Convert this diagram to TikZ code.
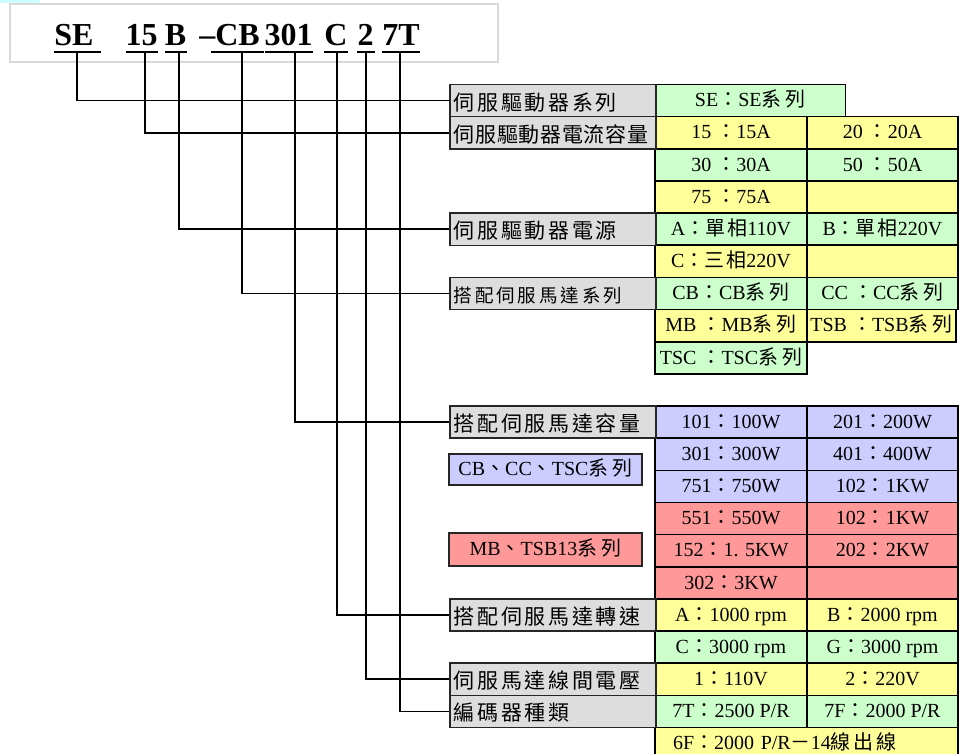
\documentclass[tikz,border=0pt]{standalone}
\usepackage{fontspec}
\setmainfont{Liberation Serif}
\newfontfamily\cjk{Noto Sans CJK TC}
\definecolor{labgray}{HTML}{DDDDDD}
\definecolor{cgreen}{HTML}{CCFFCC}
\definecolor{cyellow}{HTML}{FFFF99}
\definecolor{cblue}{HTML}{CCCCFF}
\definecolor{cred}{HTML}{FF9999}
\definecolor{framegray}{HTML}{D9D9D9}
\definecolor{cyanp}{HTML}{CCFFFF}
\makeatletter
\newcommand\lsp[2]{\def\lsp@s{\hspace{#1}}\lsp@a#2\@nil}
\def\lsp@a#1{\ifx#1\@nil\else#1\expandafter\lsp@b\fi}
\def\lsp@b#1{\ifx#1\@nil\else\lsp@s#1\expandafter\lsp@b\fi}
\makeatother
\newcommand\z[1]{{\cjk #1}}
\newcommand\fc{\z{：}}
\newcommand\xl{\z{系\hspace{4pt}列}}
\tikzset{
 conn/.style={line width=1.6pt, black},
 ul/.style={line width=1.5pt, black},
 code/.style={font=\fontsize{32}{36}\selectfont\bfseries, anchor=base, inner sep=0pt},
 lab/.style={draw=black!85, line width=1.5pt, fill=labgray, anchor=west, minimum height=32.15pt,
   text width=198pt, inner xsep=4pt, inner ysep=0pt, align=left,
   font=\fontsize{21}{24}\selectfont\cjk, text height=19pt, text depth=0pt},
 cell/.style={draw=black, line width=1.6pt, minimum height=32.15pt, inner sep=0pt,
   font=\fontsize{20}{24}\selectfont, text height=15pt, text depth=2.5pt},
 ca/.style={cell, minimum width=152pt},
 cb/.style={cell, minimum width=151pt},
 side/.style={draw=black!85, line width=1.6pt, minimum width=193pt, inner sep=0pt,
   font=\fontsize{20}{24}\selectfont, text height=15pt, text depth=2.5pt},
}
\begin{document}
\begin{tikzpicture}[x=1pt,y=-1pt]
\useasboundingbox (0,0) rectangle (960,754);
\clip (0,0) rectangle (960,754);
\fill[white] (0,0) rectangle (960,754);
\fill[cyanp] (0,0) rectangle (40,3.5);
\draw[framegray, line width=1.3pt] (10,4) rectangle (498,62);
% code
\node[code] (cSE) at (74,45.5) {SE};
\node[code] (c15) at (141.5,45.5) {15};
\node[code] (cB) at (175.5,45.5) {B};
\node[code] (cCB) at (229.5,45.5) {–CB};
\node[code] (c301) at (288.5,45.5) {301};
\node[code] (cC) at (336,45.5) {C};
\node[code] (c2) at (365.5,45.5) {2};
\node[code] (c7T) at (401,45.5) {7T};
\draw[ul] (54,52) -- (101,52);
\draw[ul] (126,52) -- (158,52);
\draw[ul] (165,52) -- (187,52);
\draw[ul] (211,52) -- (264,52);
\draw[ul] (265,52) -- (313,52);
\draw[ul] (324,52) -- (348,52);
\draw[ul] (357,52) -- (375,52);
\draw[ul] (382,52) -- (420,52);
\coordinate (uSE) at (77,52);
\coordinate (u15) at (145,52);
\coordinate (uB) at (179,52);
\coordinate (uCB) at (242,52);
\coordinate (u301) at (295,52);
\coordinate (uC) at (337,52);
\coordinate (u2) at (366,52);
\coordinate (u7T) at (400,52);
% cells
\node[cell, fill=cgreen, minimum width=190.5pt] (dSE) at (750.25,100.575) {SE\fc SE\xl};
\node[ca, fill=cyellow] (d15) at (731,132.725) {15 \fc15A};
\node[cb, fill=cyellow] (d20) at (882.5,132.725) {20 \fc20A};
\node[ca, fill=cgreen] (d30) at (731,164.875) {30 \fc30A};
\node[cb, fill=cgreen] (d50) at (882.5,164.875) {50 \fc50A};
\node[ca, fill=cyellow] (d75) at (731,197.025) {75 \fc75A};
\node[cb, fill=cyellow] (d75e) at (882.5,197.025) {};
\node[ca, fill=cgreen] (dA) at (731,229.175) {A\fc\z{單\hspace{2pt}相}110V};
\node[cb, fill=cgreen] (dB) at (882.5,229.175) {B\fc\z{單\hspace{2pt}相}220V};
\node[ca, fill=cyellow] (dC) at (731,261.325) {C\fc\z{三\hspace{2pt}相}220V};
\node[cb, fill=cyellow] (dCe) at (882.5,261.325) {};
\node[ca, fill=cgreen] (dCB) at (731,293.475) {CB\fc CB\xl};
\node[cb, fill=cgreen] (dCC) at (882.5,293.475) {CC \fc CC\xl};
\node[ca, fill=cyellow] (dMB) at (731,325.625) {MB \fc MB\xl};
\node[cb, fill=cyellow, minimum width=149pt] (dTSB) at (881.5,325.625) {TSB \fc TSB\xl};
\node[ca, fill=cgreen] (dTSC) at (731,357.775) {TSC \fc TSC\xl};
\node[ca, fill=cblue] (d101) at (731,422.075) {101\fc100W};
\node[cb, fill=cblue] (d201) at (882.5,422.075) {201\fc200W};
\node[ca, fill=cblue] (d301) at (731,454.225) {301\fc300W};
\node[cb, fill=cblue] (d401) at (882.5,454.225) {401\fc400W};
\node[ca, fill=cblue] (d751) at (731,486.375) {751\fc750W};
\node[cb, fill=cblue] (d102a) at (882.5,486.375) {102\fc1KW};
\node[ca, fill=cred] (d551) at (731,518.525) {551\fc550W};
\node[cb, fill=cred] (d102b) at (882.5,518.525) {102\fc1KW};
\node[ca, fill=cred] (d152) at (731,550.675) {152\fc1. 5KW};
\node[cb, fill=cred] (d202) at (882.5,550.675) {202\fc2KW};
\node[ca, fill=cred] (d302) at (731,582.825) {302\fc3KW};
\node[cb, fill=cred] (d302e) at (882.5,582.825) {};
\node[ca, fill=cyellow] (sA) at (731,614.975) {A\fc1000 rpm};
\node[cb, fill=cyellow] (sB) at (882.5,614.975) {B\fc2000 rpm};
\node[ca, fill=cgreen] (sC) at (731,647.125) {C\fc3000 rpm};
\node[cb, fill=cgreen] (sG) at (882.5,647.125) {G\fc3000 rpm};
\node[ca, fill=cyellow] (v1) at (731,679.275) {1\fc110V};
\node[cb, fill=cyellow] (v2) at (882.5,679.275) {2\fc220V};
\node[ca, fill=cgreen] (e7T) at (731,711.425) {7T\fc2500 P/R};
\node[cb, fill=cgreen] (e7F) at (882.5,711.425) {7F\fc2000 P/R};
\node[cell, fill=cyellow, text width=267pt, inner xsep=18pt, align=left] (e6F) at (806.5,743.575)
  {6F\fc2000 P/R\z{－}14\z{\lsp{3pt}{線出線}}};
% side labels
\node[side, fill=cblue, minimum height=31pt] (sCB) at (545.5,469.4) {CB\z{、}CC\z{、}TSC\xl};
\node[side, fill=cred, minimum height=33pt] (sMB) at (545.5,549.2) {MB\z{、}TSB13\xl};
% labels
\node[lab] (lSE) at (449,100.575) {\lsp{2.7pt}{伺服驅動器系列}};
\node[lab] (lCur) at (449,132.725) {\lsp{0.7pt}{伺服驅動器電流容量}};
\node[lab] (lPow) at (449,229.175) {\lsp{2.7pt}{伺服驅動器電源}};
\node[lab, font=\fontsize{18.5}{22}\selectfont\cjk, text height=17.5pt] (lSer) at (449,293.475) {\lsp{2.9pt}{搭配伺服馬達系列}};
\node[lab] (lCap) at (449,422.075) {\lsp{2.7pt}{搭配伺服馬達容量}};
\node[lab] (lSpd) at (449,614.975) {\lsp{2.7pt}{搭配伺服馬達轉速}};
\node[lab] (lVol) at (449,679.275) {\lsp{2.7pt}{伺服馬達線間電壓}};
\node[lab] (lEnc) at (449,711.425) {\lsp{2.7pt}{編碼器種類}};
% connectors
\draw[conn] (uSE) |- (lSE.west);
\draw[conn] (u15) |- (lCur.west);
\draw[conn] (uB) |- (lPow.west);
\draw[conn] (uCB) |- (lSer.west);
\draw[conn] (u301) |- (lCap.west);
\draw[conn] (uC) |- (lSpd.west);
\draw[conn] (u2) |- (lVol.west);
\draw[conn] (u7T) |- (lEnc.west);
\end{tikzpicture}
\end{document}
